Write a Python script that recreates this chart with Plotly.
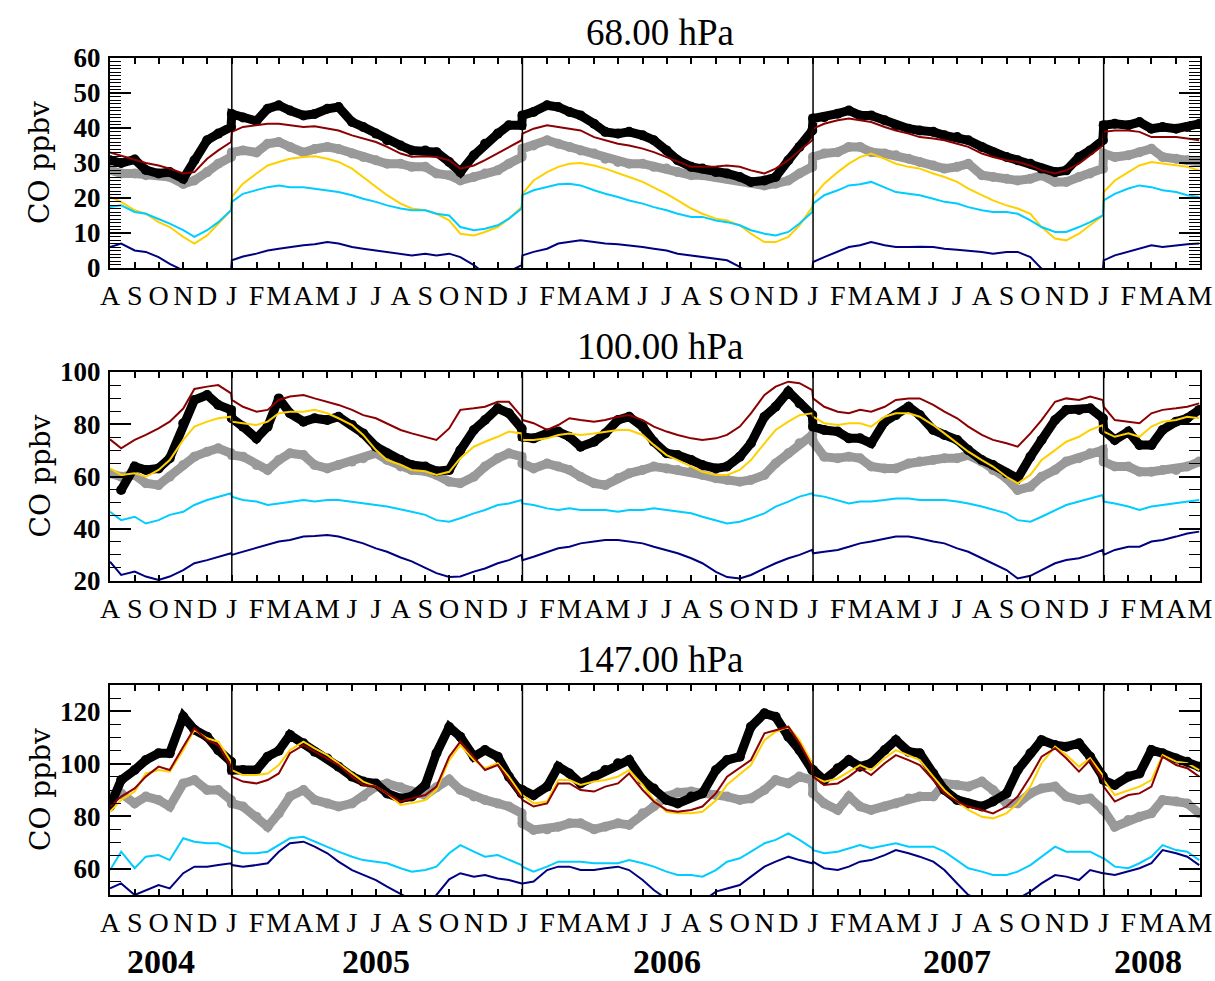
import plotly.graph_objects as go

# ---------------- sample dates (semi-monthly) ----------------
DATES = [
    "2004-08-01", "2004-08-15", "2004-09-01", "2004-09-15", "2004-10-01", "2004-10-15",
    "2004-11-01", "2004-11-15", "2004-12-01", "2004-12-15", "2004-12-31",
    "2005-01-01", "2005-01-15", "2005-02-01", "2005-02-15", "2005-03-01", "2005-03-15",
    "2005-04-01", "2005-04-15", "2005-05-01", "2005-05-15", "2005-06-01", "2005-06-15",
    "2005-07-01", "2005-07-15", "2005-08-01", "2005-08-15", "2005-09-01", "2005-09-15",
    "2005-10-01", "2005-10-15", "2005-11-01", "2005-11-15", "2005-12-01", "2005-12-15", "2005-12-31",
    "2006-01-01", "2006-01-15", "2006-02-01", "2006-02-15", "2006-03-01", "2006-03-15",
    "2006-04-01", "2006-04-15", "2006-05-01", "2006-05-15", "2006-06-01", "2006-06-15",
    "2006-07-01", "2006-07-15", "2006-08-01", "2006-08-15", "2006-09-01", "2006-09-15",
    "2006-10-01", "2006-10-15", "2006-11-01", "2006-11-15", "2006-12-01", "2006-12-15", "2006-12-31",
    "2007-01-01", "2007-01-15", "2007-02-01", "2007-02-15", "2007-03-01", "2007-03-15",
    "2007-04-01", "2007-04-15", "2007-05-01", "2007-05-15", "2007-06-01", "2007-06-15",
    "2007-07-01", "2007-07-15", "2007-08-01", "2007-08-15", "2007-09-01", "2007-09-15",
    "2007-10-01", "2007-10-15", "2007-11-01", "2007-11-15", "2007-12-01", "2007-12-15", "2007-12-31",
    "2008-01-01", "2008-01-15", "2008-02-01", "2008-02-15", "2008-03-01", "2008-03-15",
    "2008-04-01", "2008-04-15", "2008-04-30",
]

# ---------------- 68 hPa ----------------
p68_black = [30.8, 30.0, 31.0, 28.0, 27.0, 27.4, 25.5, 30.8, 36.5, 38.4, 40.3,
             44.0, 43.0, 42.0, 45.5, 46.5, 45.0, 43.6, 44.0, 45.5, 46.0, 41.7, 40.3, 38.4, 36.5, 35.0, 33.6, 33.6, 33.1, 30.3, 27.4, 32.2, 35.5, 38.4, 40.8, 40.8,
             43.6, 44.6, 46.5, 46.0, 44.6, 43.6, 41.2, 38.9, 38.4, 38.9, 37.9, 36.5, 33.6, 30.8, 28.9, 28.4, 27.4, 27.0, 26.0, 24.6, 25.0, 26.0, 30.8, 34.6, 39.3,
             42.7, 43.1, 44.1, 45.0, 43.6, 43.6, 42.2, 40.8, 39.8, 39.3, 38.9, 37.9, 37.4, 36.5, 34.6, 33.1, 31.7, 30.8, 29.8, 28.4, 27.4, 27.9, 31.7, 33.6, 36.5,
             40.8, 41.2, 40.8, 41.7, 39.8, 40.3, 39.8, 40.3, 41.2]
p68_red = [33.0, 32.0, 31.0, 30.0, 29.3, 28.4, 27.0, 27.4, 31.2, 33.6, 36.0,
           38.9, 40.3, 40.8, 41.2, 41.2, 40.8, 40.3, 40.5, 39.8, 39.3, 37.9, 37.0, 36.0, 34.6, 32.7, 31.8, 31.9, 31.7, 30.8, 28.4, 29.3, 30.8, 32.7, 34.6, 36.5,
           38.4, 39.8, 40.8, 40.3, 39.8, 39.3, 37.4, 36.5, 35.5, 35.0, 34.1, 33.1, 31.7, 30.3, 28.9, 28.9, 29.0, 29.3, 28.9, 27.9, 27.0, 28.4, 30.8, 33.6, 36.5,
           39.8, 41.2, 42.2, 42.7, 42.2, 41.7, 40.3, 39.3, 38.4, 37.4, 37.0, 36.5, 35.5, 34.6, 32.7, 31.7, 30.8, 30.3, 29.3, 27.9, 27.0, 27.9, 29.8, 32.2, 35.0,
           38.9, 39.3, 39.3, 38.9, 37.4, 37.4, 37.4, 37.0, 36.5]
p68_gray = [28.0, 27.0, 27.0, 26.5, 26.5, 26.0, 24.0, 25.0, 27.4, 29.8, 31.7,
            33.0, 33.6, 33.0, 35.5, 36.0, 34.6, 33.0, 34.0, 34.6, 34.0, 32.7, 31.7, 30.8, 29.8, 29.8, 28.9, 28.9, 27.0, 26.5, 25.0, 26.0, 27.0, 27.9, 29.8, 31.7,
            34.1, 35.0, 36.5, 35.5, 34.6, 33.6, 32.7, 31.2, 30.3, 29.8, 29.8, 28.9, 28.4, 27.4, 26.5, 26.5, 26.0, 25.5, 25.0, 24.6, 23.6, 24.1, 25.0, 27.0, 28.9,
            31.7, 32.7, 33.1, 34.6, 34.6, 33.1, 32.7, 32.2, 31.2, 30.3, 29.3, 28.4, 28.9, 29.8, 26.5, 26.0, 25.5, 25.0, 25.5, 26.5, 24.6, 24.6, 26.0, 27.0, 28.4,
            32.7, 31.7, 32.2, 33.1, 34.1, 31.7, 31.2, 30.8, 30.3]
p68_gold = [20.3, 18.9, 16.5, 15.5, 13.1, 11.7, 8.9, 7.0, 9.3, 12.7, 16.5,
            20.3, 24.1, 27.0, 29.3, 30.3, 31.2, 31.7, 31.9, 31.2, 30.3, 28.4, 26.0, 23.1, 20.8, 18.4, 17.0, 16.5, 15.5, 13.6, 9.8, 9.3, 10.3, 11.7, 14.1, 17.4,
            21.2, 25.0, 27.4, 28.9, 29.8, 30.0, 29.3, 28.4, 27.0, 26.0, 24.6, 23.1, 21.2, 19.3, 17.0, 15.5, 14.1, 13.6, 12.2, 9.8, 7.4, 7.4, 8.9, 12.2, 17.4,
            20.3, 24.1, 27.4, 29.8, 31.7, 32.7, 31.2, 29.8, 28.9, 28.4, 27.0, 26.0, 24.6, 22.7, 20.8, 19.3, 17.9, 17.0, 15.5, 11.7, 8.4, 7.9, 9.8, 12.2, 15.0,
            21.7, 25.0, 27.4, 29.3, 30.3, 29.8, 29.3, 28.9, 27.9]
p68_cyan = [17.4, 17.9, 16.0, 15.5, 14.0, 12.7, 10.8, 8.9, 10.8, 13.1, 16.5,
            18.9, 21.2, 22.2, 23.1, 23.6, 23.1, 23.1, 22.7, 22.2, 21.7, 20.8, 19.8, 18.9, 17.9, 17.0, 16.5, 16.5, 15.5, 15.0, 11.7, 10.8, 11.2, 12.2, 14.1, 17.0,
            20.8, 22.2, 23.1, 23.9, 24.1, 23.6, 22.2, 21.2, 20.3, 19.3, 18.4, 17.4, 16.5, 15.5, 14.6, 14.6, 13.6, 13.1, 12.2, 10.8, 9.8, 9.3, 10.3, 12.7, 16.0,
            18.4, 20.8, 22.2, 23.6, 23.9, 24.6, 23.1, 21.7, 21.2, 20.8, 19.8, 18.9, 18.4, 17.4, 16.5, 16.0, 16.0, 15.5, 13.6, 11.7, 10.3, 10.3, 11.7, 13.1, 15.0,
            19.3, 21.2, 22.7, 23.6, 23.1, 22.2, 21.7, 20.8, 20.3]
p68_navy = [6.0, 7.0, 5.0, 4.6, 3.1, 1.2, -0.7, -3.0, -5.0, -3.0, -1.0,
            2.2, 3.3, 4.1, 5.0, 5.5, 6.0, 6.5, 6.8, 7.4, 7.0, 6.0, 5.5, 5.0, 4.6, 4.1, 3.6, 4.1, 3.6, 4.1, 3.1, 0.8, -1.6, -3.0, -1.0, 0.8,
            3.6, 4.6, 5.5, 7.0, 7.4, 7.9, 7.4, 7.0, 6.8, 6.5, 6.0, 5.5, 5.0, 4.1, 3.6, 3.1, 2.7, 2.2, 0.3, -2.0, -5.0, -6.0, -4.0, -2.0, -0.5,
            1.7, 3.1, 4.6, 6.0, 6.5, 7.4, 6.5, 6.0, 6.0, 6.1, 6.0, 5.5, 5.2, 5.0, 4.6, 4.1, 4.6, 4.6, 3.1, -0.2, -3.0, -5.0, -4.0, -2.0, -0.7,
            2.2, 3.6, 4.6, 5.5, 6.5, 6.0, 6.5, 6.8, 7.0]

# ---------------- 100 hPa ----------------
p100_black = [None, 54.8, 63.8, 62.5, 63.1, 67.0, 80.4, 89.3, 91.2, 87.4, 85.5,
              82.3, 79.1, 74.6, 79.1, 89.9, 84.2, 81.0, 82.3, 81.6, 82.9, 79.7, 76.5, 71.4, 68.9, 66.3, 64.4, 63.8, 62.0, 62.5, 70.0, 77.8, 81.6, 86.1, 84.2, 78.4,
              75.2, 74.6, 76.5, 77.2, 75.2, 71.4, 73.3, 76.5, 81.6, 82.9, 79.1, 73.3, 68.9, 68.2, 66.3, 64.4, 63.1, 63.8, 67.6, 72.7, 82.9, 86.7, 92.5, 88.0, 83.5,
              79.1, 77.8, 77.2, 74.6, 74.6, 72.7, 81.0, 83.5, 86.7, 83.5, 77.8, 75.9, 74.0, 70.1, 66.3, 64.4, 61.2, 59.3, 67.6, 74.0, 81.6, 85.5, 85.5, 86.1, 82.3,
              77.8, 74.0, 77.2, 72.1, 72.1, 77.8, 81.0, 82.3, 85.5]
p100_red = [74.2, 70.8, 74.0, 75.9, 78.4, 81.0, 86.0, 93.5, 94.4, 95.0, 91.8,
            89.3, 86.7, 84.8, 85.5, 89.3, 90.6, 91.2, 89.9, 88.6, 87.4, 85.5, 83.5, 82.3, 80.4, 77.8, 76.5, 75.0, 74.0, 78.4, 85.5, 86.1, 86.7, 88.6, 88.6, 82.9,
            81.6, 80.4, 77.8, 79.7, 82.3, 81.6, 81.0, 81.6, 82.9, 83.5, 81.6, 79.1, 77.2, 75.9, 74.6, 74.0, 74.6, 75.9, 79.1, 84.2, 91.2, 94.4, 96.3, 95.7, 93.1,
            89.9, 86.7, 84.8, 84.2, 85.5, 84.8, 86.7, 89.3, 89.9, 89.9, 87.4, 84.8, 82.3, 79.1, 75.9, 74.0, 72.7, 71.4, 76.5, 81.6, 88.6, 89.9, 89.3, 90.6, 89.3,
            86.7, 81.6, 81.0, 80.4, 84.2, 85.5, 86.1, 86.7, 88.0]
p100_gold = [63.1, 60.6, 61.2, 59.9, 62.5, 66.3, 74.0, 79.1, 81.0, 82.3, 82.9,
             81.0, 80.4, 79.7, 81.0, 84.2, 84.8, 84.8, 85.5, 84.2, 82.3, 79.7, 75.9, 70.1, 66.3, 64.5, 62.5, 62.0, 60.6, 61.8, 67.0, 71.4, 73.3, 75.2, 77.2, 76.5,
             74.0, 74.0, 74.6, 75.9, 76.5, 75.9, 76.5, 77.2, 77.8, 77.8, 75.9, 72.1, 68.2, 66.3, 63.8, 61.8, 60.6, 60.6, 62.5, 66.3, 72.7, 77.8, 81.0, 83.5, 84.2,
             82.9, 80.4, 79.7, 80.4, 80.4, 79.1, 82.9, 84.2, 84.2, 82.9, 79.7, 76.5, 72.7, 69.5, 66.3, 63.8, 59.9, 57.4, 60.6, 66.3, 70.1, 73.3, 75.2, 77.8, 79.7,
             77.2, 75.2, 76.5, 75.2, 79.1, 81.0, 81.6, 82.9, 82.3]
p100_gray = [61.2, 59.9, 60.6, 57.4, 56.7, 59.9, 64.4, 67.6, 69.5, 70.8, 68.9,
             68.2, 67.6, 64.4, 62.5, 66.3, 68.9, 68.2, 64.4, 63.1, 64.4, 65.7, 67.0, 68.9, 66.3, 63.8, 62.5, 62.0, 60.6, 58.0, 57.4, 59.9, 63.8, 67.0, 68.9, 67.6,
             65.0, 63.1, 65.0, 63.8, 62.5, 59.9, 57.4, 56.7, 59.3, 61.2, 62.5, 63.8, 63.1, 62.5, 61.8, 60.6, 59.3, 58.7, 58.0, 58.7, 60.6, 65.0, 68.9, 72.7, 75.9,
             73.3, 67.6, 67.0, 67.6, 67.0, 63.8, 63.1, 63.1, 65.0, 65.7, 66.3, 67.0, 67.0, 68.2, 65.7, 62.5, 59.3, 54.8, 56.1, 59.9, 62.5, 65.7, 67.0, 68.9, 70.1,
             65.7, 63.8, 63.8, 61.8, 61.8, 62.5, 62.5, 63.8, 65.7]
p100_cyan = [46.5, 43.3, 44.6, 42.0, 43.3, 45.3, 46.5, 49.1, 51.0, 52.3, 53.6,
             52.3, 51.0, 50.4, 49.1, 49.7, 50.4, 51.0, 50.4, 51.0, 51.0, 50.4, 49.7, 49.1, 48.5, 47.5, 46.5, 45.3, 43.3, 42.7, 44.0, 45.9, 47.2, 49.1, 49.7, 51.0,
             49.7, 49.1, 47.8, 47.2, 47.8, 47.2, 47.2, 47.2, 46.5, 47.2, 47.2, 47.8, 47.2, 46.5, 45.9, 44.6, 43.3, 42.0, 42.7, 44.0, 45.9, 48.5, 50.4, 52.3, 53.6,
             52.9, 52.3, 51.0, 49.7, 50.4, 50.4, 51.0, 51.6, 51.6, 51.0, 51.0, 51.0, 50.4, 49.7, 48.5, 47.2, 45.9, 43.3, 42.7, 44.6, 47.2, 49.1, 50.4, 51.6, 52.9,
             50.4, 49.7, 48.5, 47.2, 48.5, 49.1, 49.7, 50.4, 51.0]
p100_navy = [27.4, 22.3, 23.6, 21.7, 20.4, 21.7, 24.2, 26.8, 28.0, 29.3, 30.6,
             30.0, 31.2, 32.5, 33.8, 35.1, 35.7, 37.0, 37.2, 37.6, 37.0, 35.7, 34.4, 32.5, 31.2, 29.0, 27.5, 25.0, 23.0, 21.5, 21.7, 23.6, 24.8, 26.8, 28.0, 30.0,
             28.0, 29.3, 31.2, 32.5, 33.1, 34.4, 35.1, 35.7, 35.7, 35.1, 34.4, 33.1, 31.9, 30.6, 28.7, 26.8, 23.5, 21.5, 21.0, 22.3, 24.8, 26.8, 28.7, 30.0, 31.9,
             30.6, 31.2, 31.9, 33.1, 34.4, 35.1, 36.3, 37.0, 37.0, 36.3, 35.1, 34.4, 32.5, 31.2, 28.7, 26.8, 24.2, 21.0, 22.0, 24.2, 26.8, 28.0, 28.7, 30.0, 31.9,
             30.0, 31.9, 33.1, 33.1, 35.1, 35.7, 37.0, 38.2, 38.9]

# ---------------- 147 hPa ----------------
p147_black = [83.7, 93.8, 97.6, 101.4, 104.0, 104.0, 118.0, 113.0, 110.3, 105.2, 100.8,
              97.6, 97.6, 97.6, 102.7, 105.0, 111.0, 107.8, 104.6, 102.0, 98.9, 95.1, 93.2, 92.5, 88.7, 86.8, 87.5, 91.9, 104.0, 114.0, 110.3, 102.7, 105.2, 102.7, 95.1, 88.7,
              90.0, 88.0, 91.3, 98.9, 96.3, 92.5, 95.1, 97.6, 100.2, 101.4, 93.8, 90.6, 86.2, 84.9, 87.5, 88.7, 97.6, 101.4, 102.7, 114.1, 119.2, 117.9, 110.3, 105.2, 97.6,
              97.6, 93.8, 98.3, 101.4, 98.9, 100.2, 105.2, 109.0, 104.6, 104.0, 96.3, 90.0, 86.2, 84.9, 83.7, 85.6, 88.7, 97.6, 104.0, 109.0, 107.1, 106.5, 107.8, 102.7, 95.1,
              93.8, 91.9, 95.1, 96.3, 105.2, 104.0, 102.0, 100.8, 98.9]
p147_red = [83.7, 87.5, 90.6, 95.1, 98.9, 97.6, 106.5, 113.5, 109.0, 107.1, 98.9,
            95.1, 93.2, 92.5, 93.8, 96.3, 104.0, 107.1, 104.6, 102.0, 99.5, 95.1, 91.9, 91.3, 88.7, 85.6, 86.8, 88.1, 91.3, 102.7, 108.4, 102.7, 97.6, 99.5, 93.8, 86.8,
            86.2, 83.7, 84.9, 92.5, 92.5, 90.0, 89.4, 91.3, 92.5, 96.3, 90.0, 85.6, 82.4, 81.7, 82.4, 83.7, 88.7, 95.1, 98.3, 101.4, 111.6, 112.9, 114.1, 107.8, 98.9,
            95.1, 91.9, 92.5, 95.1, 98.3, 95.7, 100.2, 103.3, 101.4, 99.5, 93.8, 88.7, 85.6, 83.7, 82.4, 81.1, 83.7, 87.5, 95.1, 102.7, 105.9, 102.1, 97.0, 101.4, 93.8,
            91.3, 85.6, 88.1, 88.7, 91.3, 102.7, 99.5, 98.3, 95.1]
p147_gold = [81.7, 86.2, 89.4, 96.3, 97.6, 97.0, 105.2, 112.9, 109.7, 108.4, 100.8,
             97.6, 95.7, 95.7, 96.3, 99.5, 105.2, 108.4, 105.9, 103.3, 100.2, 96.3, 93.2, 91.3, 88.7, 84.3, 85.0, 86.2, 90.0, 101.4, 107.1, 101.4, 98.3, 100.2, 95.1, 88.1,
             88.1, 84.9, 85.6, 93.8, 93.8, 91.9, 93.2, 93.8, 95.1, 97.6, 91.9, 86.2, 81.7, 81.1, 81.1, 81.7, 86.0, 92.0, 96.0, 99.5, 109.0, 112.2, 114.1, 109.0, 100.0,
             95.1, 93.2, 94.4, 97.0, 99.5, 97.6, 102.1, 105.2, 103.3, 101.4, 95.1, 90.0, 85.6, 82.4, 79.8, 79.2, 81.1, 84.9, 91.3, 100.2, 106.5, 103.3, 98.9, 102.1, 95.7,
             93.8, 88.1, 90.0, 91.3, 93.8, 103.3, 100.8, 100.2, 97.6]
p147_gray = [87.5, 88.7, 84.9, 87.5, 86.2, 83.7, 92.5, 93.8, 90.0, 90.0, 86.2,
             84.9, 83.7, 79.8, 76.0, 81.1, 87.5, 90.0, 86.2, 84.9, 83.7, 84.9, 87.5, 91.3, 92.5, 91.0, 89.4, 88.0, 91.0, 94.0, 90.0, 87.5, 86.2, 84.9, 83.7, 81.1,
             77.3, 74.8, 75.0, 76.0, 77.3, 77.3, 75.0, 76.0, 77.3, 76.7, 81.1, 83.7, 87.5, 89.0, 89.4, 89.0, 88.1, 87.5, 86.2, 86.8, 90.0, 93.8, 92.5, 95.1, 93.8,
             88.7, 84.9, 82.4, 87.5, 83.7, 82.4, 83.7, 84.9, 86.8, 87.5, 87.5, 92.5, 91.9, 91.3, 93.2, 90.0, 84.9, 84.9, 88.7, 90.6, 91.3, 87.5, 86.2, 86.8, 82.4,
             82.4, 76.0, 78.6, 79.8, 81.1, 86.2, 85.6, 84.9, 81.1]
p147_cyan = [59.5, 66.5, 60.2, 64.6, 65.2, 63.3, 71.6, 70.3, 69.7, 69.7, 67.8,
             67.1, 65.9, 65.9, 66.5, 69.0, 71.6, 72.2, 70.3, 68.4, 66.5, 64.6, 63.3, 62.7, 62.1, 60.2, 58.9, 59.5, 60.8, 65.9, 69.0, 66.5, 64.6, 65.2, 63.3, 61.4,
             60.8, 58.9, 60.8, 62.7, 62.7, 62.7, 62.1, 62.1, 62.1, 63.3, 62.1, 60.8, 58.9, 57.6, 57.6, 57.0, 59.5, 62.7, 64.0, 66.5, 69.7, 71.0, 73.5, 71.0, 67.8,
             67.1, 65.9, 66.5, 67.8, 69.0, 67.8, 69.0, 69.7, 68.4, 68.4, 68.4, 66.5, 63.3, 60.2, 58.9, 57.6, 57.6, 58.9, 61.4, 64.6, 68.4, 66.5, 66.5, 66.5, 64.0,
             64.0, 60.8, 60.2, 62.1, 64.6, 69.0, 67.1, 66.5, 63.3]
p147_navy = [52.5, 54.4, 50.0, 51.9, 53.8, 52.5, 58.3, 60.8, 60.8, 61.4, 62.1,
             61.4, 60.8, 61.4, 62.1, 66.5, 69.7, 70.3, 68.4, 65.9, 62.7, 59.5, 57.6, 55.7, 53.2, 50.6, 48.1, 47.0, 50.0, 56.0, 58.3, 57.0, 57.6, 56.3, 55.7, 54.4,
             54.4, 55.1, 59.5, 60.8, 60.8, 59.5, 59.5, 60.2, 60.8, 59.5, 55.7, 51.9, 48.5, 47.0, 46.5, 47.5, 51.3, 52.5, 53.8, 57.0, 60.8, 62.7, 64.6, 63.3, 62.1,
             62.7, 60.2, 59.5, 60.8, 62.7, 63.3, 65.2, 67.1, 65.9, 64.6, 62.7, 59.5, 54.4, 50.0, 48.0, 47.0, 47.0, 48.5, 51.3, 54.4, 57.6, 57.0, 55.7, 59.5, 58.3,
             58.3, 57.6, 58.9, 60.2, 62.1, 67.1, 65.9, 64.6, 61.4]

# ---------------- axis labels ----------------
MONTH_TICKS = [
    "2004-08-01", "2004-09-01", "2004-10-01", "2004-11-01", "2004-12-01",
    "2005-01-01", "2005-02-01", "2005-03-01", "2005-04-01", "2005-05-01", "2005-06-01",
    "2005-07-01", "2005-08-01", "2005-09-01", "2005-10-01", "2005-11-01", "2005-12-01",
    "2006-01-01", "2006-02-01", "2006-03-01", "2006-04-01", "2006-05-01", "2006-06-01",
    "2006-07-01", "2006-08-01", "2006-09-01", "2006-10-01", "2006-11-01", "2006-12-01",
    "2007-01-01", "2007-02-01", "2007-03-01", "2007-04-01", "2007-05-01", "2007-06-01",
    "2007-07-01", "2007-08-01", "2007-09-01", "2007-10-01", "2007-11-01", "2007-12-01",
    "2008-01-01", "2008-02-01", "2008-03-01", "2008-04-01", "2008-05-01",
]
MONTH_LABELS = ["A", "S", "O", "N", "D",
                "J", "F", "M", "A", "M", "J", "J", "A", "S", "O", "N", "D",
                "J", "F", "M", "A", "M", "J", "J", "A", "S", "O", "N", "D",
                "J", "F", "M", "A", "M", "J", "J", "A", "S", "O", "N", "D",
                "J", "F", "M", "A", "M"]
YEAR_LINES = ["2005-01-01", "2006-01-01", "2007-01-01", "2008-01-01"]
YEAR_LABELS = ["2004", "2005", "2006", "2007", "2008"]
YEAR_LABEL_POS = ["2004-10-04", "2005-07-01", "2006-07-01", "2007-07-01", "2008-02-26"]
TITLES = ["68.00 hPa", "100.00 hPa", "147.00 hPa"]

X_RANGE = ["2004-08-01", "2008-05-01"]

W, H = 1215, 981
PLOT_L, PLOT_R = 110, 1200
PANEL_PX = [(58, 268), (372, 581), (685, 895)]  # top, bottom in pixels

COL_BLACK = "#000000"
COL_GRAY = "#999999"
COL_RED = "#8b0000"
COL_GOLD = "#ffd000"
COL_CYAN = "#00ccff"
COL_NAVY = "#000080"

panels = [
    dict(data=(p68_gray, p68_black, p68_gold, p68_red, p68_cyan, p68_navy), yr=[0, 60], dtick=10, mdtick=1),
    dict(data=(p100_gray, p100_black, p100_gold, p100_red, p100_cyan, p100_navy), yr=[20, 100], dtick=20, mdtick=5),
    dict(data=(p147_gray, p147_black, p147_gold, p147_red, p147_cyan, p147_navy), yr=[50, 130], dtick=20, mdtick=5),
]

fig = go.Figure()
layout = dict(
    width=W, height=H,
    margin=dict(l=0, r=0, t=0, b=0, autoexpand=False),
    paper_bgcolor="white", plot_bgcolor="white",
    showlegend=False,
)

TICK_FONT = dict(family="Liberation Serif", size=27, color="black", weight="bold")
MONTH_FONT = dict(family="Liberation Serif", size=28, color="black")

shapes = []
annotations = []
for i, p in enumerate(panels):
    n = i + 1
    xa = "x" if n == 1 else f"x{n}"
    ya = "y" if n == 1 else f"y{n}"
    gray, black, gold, red, cyan, navy = p["data"]

    for vals, col in ((gray, COL_GRAY), (black, COL_BLACK)):
        fig.add_trace(go.Scatter(x=DATES, y=vals, mode="lines+markers", xaxis=xa, yaxis=ya,
                                 line=dict(color=col, width=9), marker=dict(color=col, size=10),
                                 connectgaps=False, hoverinfo="skip"))
    for vals, col in ((gold, COL_GOLD), (red, COL_RED), (cyan, COL_CYAN), (navy, COL_NAVY)):
        fig.add_trace(go.Scatter(x=DATES, y=vals, mode="lines", xaxis=xa, yaxis=ya,
                                 line=dict(color=col, width=2), hoverinfo="skip"))

    top, bot = PANEL_PX[i]
    xkey = "xaxis" if n == 1 else f"xaxis{n}"
    ykey = "yaxis" if n == 1 else f"yaxis{n}"
    layout[xkey] = dict(
        domain=[PLOT_L / W, PLOT_R / W], anchor=ya, type="date", range=X_RANGE,
        tickmode="array", tickvals=MONTH_TICKS, ticktext=MONTH_LABELS, tickangle=0,
        ticks="inside", ticklen=6, tickwidth=1.5, tickcolor="black",
        showline=True, linewidth=2, linecolor="black", mirror="ticks",
        showgrid=False, zeroline=False, tickfont=MONTH_FONT, ticklabelstandoff=1,
        automargin=False,
    )
    layout[ykey] = dict(
        domain=[1 - bot / H, 1 - top / H], anchor=xa, range=p["yr"],
        tickmode="linear", tick0=0, dtick=p["dtick"],
        ticks="inside", ticklen=21, tickwidth=1.5, tickcolor="black",
        minor=dict(dtick=p["mdtick"], tick0=0, ticks="inside", ticklen=11, tickwidth=1, tickcolor="black", showgrid=False),
        showline=True, linewidth=2, linecolor="black", mirror="ticks",
        showgrid=False, zeroline=False, tickfont=TICK_FONT, ticklabelstandoff=2,
        automargin=False,
    )
    for d in YEAR_LINES:
        shapes.append(dict(type="line", xref=xa, yref=f"{ya} domain", x0=d, x1=d, y0=0, y1=1,
                           line=dict(color="black", width=1.5)))
    annotations.append(dict(text=TITLES[i], xref="paper", yref="paper", x=660 / W, y=1 - (top - 26) / H,
                            xanchor="center", yanchor="middle", showarrow=False,
                            font=dict(family="Liberation Serif", size=37, color="black")))
    annotations.append(dict(text="CO ppbv", xref="paper", yref="paper", x=40 / W, y=1 - (top + bot) / 2 / H,
                            xanchor="center", yanchor="middle", showarrow=False, textangle=-90,
                            font=dict(family="DejaVu Serif", size=28, color="black")))

for lab, pos in zip(YEAR_LABELS, YEAR_LABEL_POS):
    annotations.append(dict(text=lab, xref="x3", yref="paper", x=pos, y=1 - 961 / H,
                            xanchor="center", yanchor="middle", showarrow=False, borderpad=0,
                            font=dict(family="Liberation Serif", size=34, color="black", weight="bold")))

layout["shapes"] = shapes
layout["annotations"] = annotations
fig.update_layout(**layout)
fig.write_html("out.html")
